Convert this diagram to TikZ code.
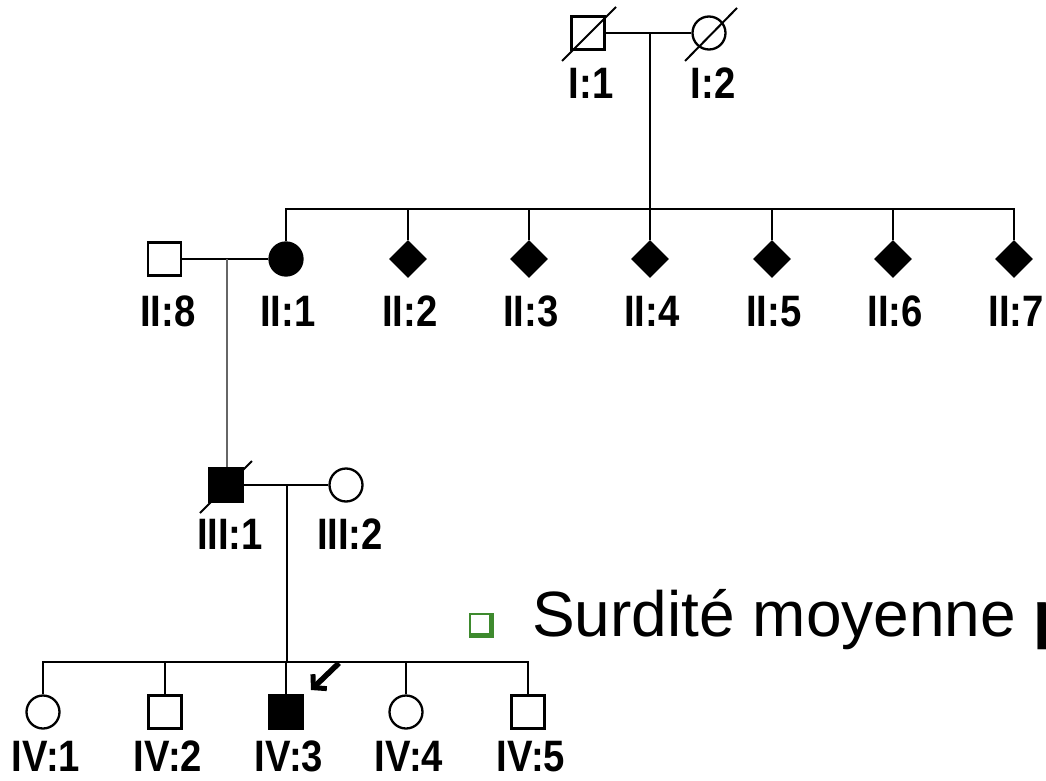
\documentclass[tikz,border=0pt]{standalone}
\usepackage{fontspec}
\setmainfont{Liberation Sans}
\usetikzlibrary{shapes.geometric,arrows.meta}
\definecolor{bulletgreen}{RGB}{62,138,46}
\newcommand{\pedlab}[1]{\scalebox{0.87}[1]{\fontsize{44}{44}\selectfont\bfseries #1}}
\tikzset{
  ln/.style={line width=2.5pt, line cap=rect},
  thinln/.style={line width=1.9pt, draw=black!60},
  male/.style={rectangle, draw, line width=2.3pt, minimum size=33pt, inner sep=0pt, fill=white},
  female/.style={circle, draw, line width=2.3pt, minimum size=33pt, inner sep=0pt, fill=white},
  affected/.style={fill=black},
  unknownsex/.style={diamond, fill=black, minimum size=38pt, inner sep=0pt},
  lab/.style={inner sep=0pt, anchor=base},
  dead/.style={line width=2pt},
}
\begin{document}
\begin{tikzpicture}[x=1pt, y=-1pt]
\clip (0,0) rectangle (1046,781);
\fill[white] (0,0) rectangle (1046,781);

% ---------- generation I ----------
\node[male]   (I1) at (588,33) {};
\node[female] (I2) at (709,33) {};
\draw[dead] ([shift={(-26,28)}]I1.center) -- ([shift={(28,-26)}]I1.center);
\draw[dead] ([shift={(-24,28)}]I2.center) -- ([shift={(28,-25)}]I2.center);
\draw[ln, line cap=butt] (I1.east) -- (I2.west);
\coordinate (mI) at (650,33);
\coordinate (sII) at (650,209);
\draw[ln] (mI) -- (sII);
\node[lab] (lI1) at (591,99) {\pedlab{I:1}};
\node[lab] (lI2) at (713,99) {\pedlab{I:2}};

% ---------- generation II ----------
\node[male]   (II8) at (164.5,259) {};
\node[female, affected] (II1) at (286,259) {};
\node[unknownsex] (II2) at (408,259) {};
\node[unknownsex] (II3) at (529,259) {};
\node[unknownsex] (II4) at (650,259) {};
\node[unknownsex] (II5) at (772,259) {};
\node[unknownsex] (II6) at (893,259) {};
\node[unknownsex] (II7) at (1014,259) {};
\coordinate (sIIl) at (286,209);
\coordinate (sIIr) at (1014,209);
\draw[ln] (sIIl) -- (sIIr);
\foreach \n in {II1,II2,II3,II4,II5,II6,II7}
  \draw[ln, line cap=butt] (\n.north |- sIIl) -- (\n.north);
\draw[ln, line cap=butt] (II8.east) -- (II1.west);
\node[lab] at (168,326) {\pedlab{II:8}};
\foreach \n/\t in {II1/II:1,II2/II:2,II3/II:3,II4/II:4,II5/II:5,II6/II:6,II7/II:7}
  \node[lab] at ([xshift=2pt]\n.center |- 0,326) {\pedlab{\t}};

% ---------- generation III ----------
\node[male, affected] (III1) at (226,485) {};
\node[female] (III2) at (346,485) {};
\draw[dead] ([shift={(-26,28)}]III1.center) -- ([shift={(26,-24)}]III1.center);
\coordinate (mII) at (227,259);
\draw[thinln] (mII) -- (mII |- III1.north);
\draw[ln, line cap=butt] (III1.east) -- (III2.west);
\coordinate (mIII) at (287,485);
\coordinate (sIV) at (287,662);
\draw[ln, line cap=butt] (mIII) -- (sIV);
\node[lab] at (230,549) {\pedlab{III:1}};
\node[lab] at (350,549) {\pedlab{III:2}};

% ---------- generation IV ----------
\node[female] (IV1) at (43,712) {};
\node[male]   (IV2) at (165,712) {};
\node[male, affected] (IV3) at (286,712) {};
\node[female] (IV4) at (406,712) {};
\node[male]   (IV5) at (528,712) {};
\coordinate (sIVl) at (43,662);
\coordinate (sIVr) at (528,662);
\draw[ln] (sIVl) -- (sIVr);
\foreach \n in {IV1,IV2,IV3,IV4,IV5}
  \draw[ln, line cap=butt] (\n.north |- sIVl) -- (\n.north);
\foreach \n/\t in {IV1/IV:1,IV2/IV:2,IV3/IV:3,IV4/IV:4,IV5/IV:5}
  \node[lab] at ([xshift=3pt]\n.center |- 0,771) {\pedlab{\t}};

% proband arrow
\coordinate (arrS) at (339,663);
\coordinate (arrT) at (311,690);
\draw[line width=5.5pt, -{Straight Barb[length=9pt, width=20pt, line width=5pt]}]
  (arrS) -- (arrT);

% ---------- caption ----------
\fill[bulletgreen] (469,613) rectangle (494,638);
\fill[white] (470.5,614.5) rectangle (489.5,633.5);
\draw[bulletgreen, line width=0.9pt] (470,614) rectangle (489.5,633.5);
\node[anchor=base west, inner sep=0pt, font=\fontsize{64}{64}\selectfont] (cap) at (532,636)
  {Surdité moyenne \textbf{p}};
\end{tikzpicture}
\end{document}
